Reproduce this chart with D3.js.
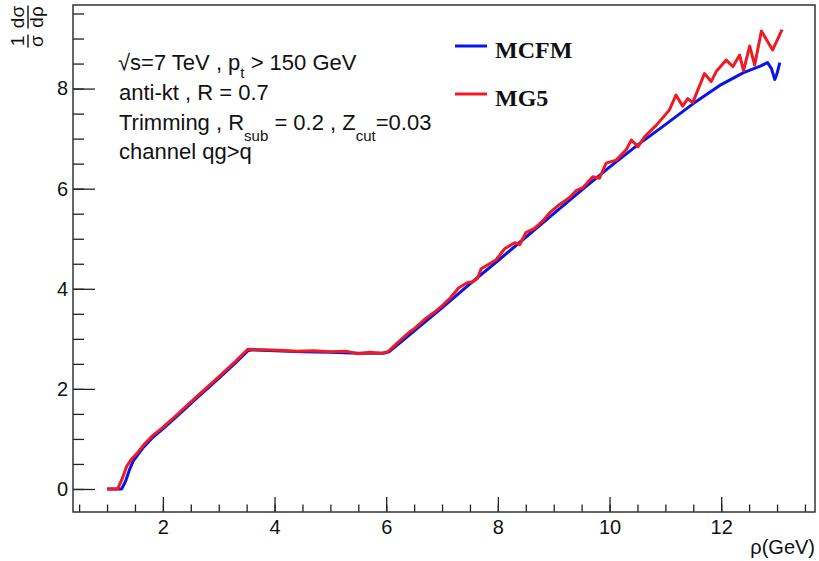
<!DOCTYPE html>
<html>
<head>
<meta charset="utf-8">
<script src="https://cdn.jsdelivr.net/npm/d3@7"></script>
<style>
  body { margin: 0; background: #fff; }
</style>
</head>
<body>
<div id="chart"></div>
<script>
// MCFM curve (rho, 1/sigma dsigma/drho)
const mcfm = [
    [1.00, 0], [1.26, 0], [1.33, 0.15], [1.40, 0.38], [1.47, 0.56], [1.55, 0.68],
    [1.65, 0.83], [1.80, 1.01], [2.00, 1.20], [2.30, 1.50], [2.60, 1.81], [3.00, 2.21],
    [3.30, 2.52], [3.52, 2.76], [3.60, 2.78], [4.00, 2.76], [4.50, 2.74], [5.00, 2.73],
    [5.50, 2.71], [5.95, 2.71], [6.05, 2.74], [6.30, 2.97], [6.60, 3.25], [7.00, 3.62],
    [7.50, 4.10], [8.00, 4.56], [8.50, 5.03], [9.00, 5.50], [9.50, 5.97], [10.00, 6.43],
    [10.50, 6.87], [11.00, 7.28], [11.50, 7.70], [12.00, 8.08], [12.40, 8.32], [12.70, 8.45],
    [12.83, 8.52], [12.90, 8.40], [12.96, 8.18], [13.00, 8.30], [13.05, 8.52]
];

// MG5 curve
const mg5 = [
    [1.00, 0], [1.19, 0], [1.27, 0.20], [1.35, 0.45], [1.44, 0.60], [1.55, 0.73],
    [1.67, 0.90], [1.80, 1.05], [2.00, 1.23], [2.30, 1.53], [2.60, 1.84], [3.00, 2.24],
    [3.30, 2.55], [3.52, 2.79], [3.80, 2.78], [4.10, 2.77], [4.40, 2.75], [4.70, 2.76],
    [5.00, 2.74], [5.30, 2.75], [5.50, 2.70], [5.70, 2.73], [5.90, 2.71], [6.03, 2.74],
    [6.20, 2.92], [6.40, 3.12], [6.50, 3.20], [6.70, 3.40], [6.85, 3.52], [7.00, 3.66],
    [7.15, 3.82], [7.30, 4.02], [7.45, 4.12], [7.55, 4.14], [7.63, 4.20], [7.70, 4.40],
    [7.85, 4.50], [7.97, 4.58], [8.12, 4.80], [8.30, 4.92], [8.39, 4.88], [8.50, 5.12],
    [8.65, 5.20], [8.80, 5.35], [8.93, 5.52], [9.10, 5.68], [9.28, 5.82], [9.40, 5.96],
    [9.52, 6.02], [9.70, 6.24], [9.82, 6.21], [9.94, 6.51], [10.12, 6.57], [10.30, 6.78],
    [10.39, 6.97], [10.51, 6.84], [10.63, 7.04], [10.84, 7.27], [11.07, 7.57], [11.19, 7.87],
    [11.31, 7.65], [11.40, 7.80], [11.49, 7.72], [11.70, 8.30], [11.82, 8.14], [11.91, 8.34],
    [12.09, 8.57], [12.21, 8.44], [12.33, 8.67], [12.40, 8.36], [12.51, 8.85], [12.60, 8.47],
    [12.72, 9.15], [12.92, 8.77], [13.09, 9.18]
];

const xMajor = [2, 4, 6, 8, 10, 12];
const xMinor = d3.range(0.5, 13.6, 0.5);
const yMajor = [0, 2, 4, 6, 8];
const yMinor = d3.range(0, 9.6, 0.5);

const W = 819, H = 561;
const frameL = 73, frameR = 815, frameT = 5, frameB = 512;
const sans = "Liberation Sans, Arial, Helvetica, sans-serif";
const serif = "Liberation Serif, Times New Roman, serif";

const svg = d3.select("#chart").append("svg")
    .attr("width", W).attr("height", H)
    .attr("font-family", sans);

const x = d3.scaleLinear().domain([0.39, 13.68]).range([frameL, frameR]);
const y = d3.scaleLinear().domain([-0.46, 9.67]).range([frameB, frameT]);

// x axis (ticks inside the frame, ROOT style)
svg.append("g").attr("transform", `translate(0,${frameB})`)
    .call(d3.axisBottom(x).tickValues(xMajor).tickSizeInner(-15).tickSizeOuter(0).tickPadding(8));
svg.append("g").attr("transform", `translate(0,${frameB})`)
    .call(d3.axisBottom(x).tickValues(xMinor).tickSizeInner(-7.5).tickSizeOuter(0).tickFormat(""));

svg.append("g").attr("transform", `translate(${frameL},0)`)
    .call(d3.axisLeft(y).tickValues(yMajor).tickSizeInner(-22).tickSizeOuter(0).tickPadding(5));
svg.append("g").attr("transform", `translate(${frameL},0)`)
    .call(d3.axisLeft(y).tickValues(yMinor).tickSizeInner(-11).tickSizeOuter(0).tickFormat(""));

svg.selectAll(".domain").remove();
svg.selectAll(".tick line").attr("stroke", "#222").attr("stroke-width", 1.3);
svg.selectAll(".tick text")
    .attr("font-family", sans)
    .attr("font-size", 20).attr("fill", "#111");

// frame
svg.append("rect")
    .attr("x", frameL).attr("y", frameT)
    .attr("width", frameR - frameL).attr("height", frameB - frameT)
    .attr("fill", "none").attr("stroke", "#333").attr("stroke-width", 1.5);

// curves
const line = d3.line().x(d => x(d[0])).y(d => y(d[1]));
svg.append("path").datum(mcfm).attr("d", line)
    .attr("fill", "none").attr("stroke", "#0a14e6").attr("stroke-width", 3)
    .attr("stroke-linejoin", "round");
svg.append("path").datum(mg5).attr("d", line)
    .attr("fill", "none").attr("stroke", "#ee1b24").attr("stroke-width", 3)
    .attr("stroke-linejoin", "round");

// x title
svg.append("text").attr("x", 815).attr("y", 554)
    .attr("text-anchor", "end").attr("font-size", 20).attr("fill", "#111")
    .text("ρ(GeV)");

// y title: 1/σ dσ/dρ rotated
const yt = svg.append("g").attr("transform", "translate(28,48) rotate(-90)")
    .attr("font-size", 19).attr("fill", "#111");
function frac(cx, w, num, den) {
    yt.append("text").attr("x", cx).attr("y", -4).attr("text-anchor", "middle").text(num);
    yt.append("text").attr("x", cx).attr("y", 15).attr("text-anchor", "middle").text(den);
    yt.append("line").attr("x1", cx - w / 2).attr("x2", cx + w / 2)
        .attr("y1", 0).attr("y2", 0).attr("stroke", "#111").attr("stroke-width", 1.4);
}
frac(7, 13, "1", "σ");
frac(31, 23, "dσ", "dρ");

// info text
const info = svg.append("g").attr("font-size", 22).attr("fill", "#111");
const l1 = info.append("text").attr("x", 118).attr("y", 70);
l1.append("tspan").text("√s=7 TeV , p");
l1.append("tspan").attr("font-size", 15).attr("dy", 8).text("t");
l1.append("tspan").attr("dy", -8).text(" > 150 GeV");
info.append("text").attr("x", 119).attr("y", 100).text("anti-kt , R = 0.7");
const l3 = info.append("text").attr("x", 119).attr("y", 130);
l3.append("tspan").text("Trimming , R");
l3.append("tspan").attr("font-size", 15).attr("dy", 11).text("sub");
l3.append("tspan").attr("dy", -11).text(" = 0.2 , Z");
l3.append("tspan").attr("font-size", 15).attr("dy", 11).text("cut");
l3.append("tspan").attr("dy", -11).text("=0.03");
info.append("text").attr("x", 119).attr("y", 159).text("channel qg>q");

// legend
const legend = [
    { name: "MCFM", color: "#0a14e6", y: 46 },
    { name: "MG5", color: "#ee1b24", y: 94 }
];
const lg = svg.append("g");
lg.selectAll("line").data(legend).enter().append("line")
    .attr("x1", 455).attr("x2", 487)
    .attr("y1", d => d.y).attr("y2", d => d.y)
    .attr("stroke", d => d.color).attr("stroke-width", 3);
lg.selectAll("text").data(legend).enter().append("text")
    .attr("x", 495).attr("y", d => d.y + 12)
    .attr("font-family", serif)
    .attr("font-weight", "bold").attr("font-size", 24).attr("fill", "#111")
    .text(d => d.name);
</script>
</body>
</html>
